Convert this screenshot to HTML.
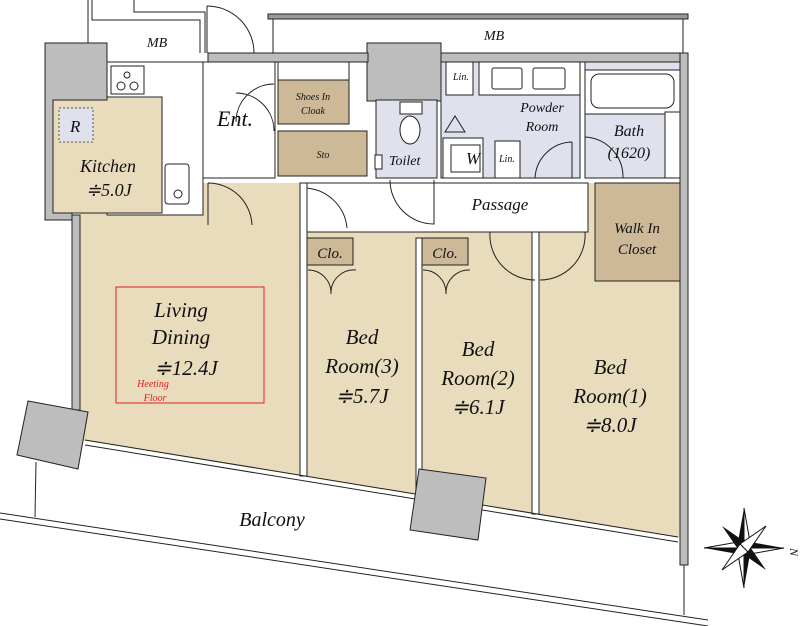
<!DOCTYPE html>
<html><head><meta charset="utf-8"><style>
body{margin:0;background:#fff}
svg{display:block}
text{font-family:"Liberation Serif",serif;font-style:italic;fill:#111}
</style></head><body>
<svg width="811" height="626" viewBox="0 0 811 626" xmlns="http://www.w3.org/2000/svg">
<g fill="none" stroke="#222" stroke-width="1">
<polyline points="88,0 88,43"/><polyline points="92,0 92,20 200,20 200,53"/>
<polyline points="134,0 134,12 205,12 205,53"/>
<rect x="268" y="14" width="420" height="5" fill="#999"/>
<polyline points="273,53 273,19 683,19 683,53"/>
</g>
<polygon points="80,183 680,183 680,538 80,440" fill="#e8dcbc"/>
<rect x="107" y="62" width="96" height="153" fill="#fff" stroke="#222"/>
<rect x="53" y="97" width="109" height="116" fill="#e8dcbc" stroke="#222"/>
<rect x="59" y="108" width="34" height="34" fill="#dfe1ec" stroke="#555" stroke-dasharray="2,2"/>
<rect x="111" y="66" width="33" height="28" fill="#fff" stroke="#222"/>
<circle cx="121" cy="86" r="4" fill="none" stroke="#222"/><circle cx="134" cy="86" r="4" fill="none" stroke="#222"/><circle cx="127" cy="75" r="3" fill="none" stroke="#222"/>
<rect x="165" y="164" width="24" height="40" rx="3" fill="#fff" stroke="#222"/>
<circle cx="178" cy="194" r="4" fill="none" stroke="#222"/>
<polygon points="45,43 107,43 107,100 53,100 53,213 72,213 72,220 45,220" fill="#bdbdbd" stroke="#222"/>
<rect x="72" y="215" width="8" height="195" fill="#bdbdbd" stroke="#222"/>
<rect x="367" y="43" width="74" height="58" fill="#bdbdbd" stroke="#222"/>
<rect x="208" y="53" width="160" height="9" fill="#bdbdbd" stroke="#222"/>
<rect x="441" y="53" width="242" height="9" fill="#bdbdbd" stroke="#222"/>
<rect x="680" y="53" width="8" height="512" fill="#bdbdbd" stroke="#222"/>
<rect x="203" y="62" width="72" height="116" fill="#fff" stroke="#222"/>
<path d="M207,6 L207,53 M207,6 A47,47 0 0 1 254,53" fill="none" stroke="#222"/>
<path d="M274,84 A38,38 0 0 0 236,122 M274,131 A38,38 0 0 0 236,93" fill="none" stroke="#222"/>
<rect x="278" y="62" width="71" height="18" fill="#fff" stroke="#222"/>
<rect x="278" y="80" width="71" height="44" fill="#cdb997" stroke="#222"/>
<rect x="278" y="131" width="89" height="45" fill="#cdb997" stroke="#222"/>
<rect x="376" y="100" width="61" height="78" fill="#dfe1ec" stroke="#222"/>
<ellipse cx="410" cy="130" rx="10" ry="14" fill="#fff" stroke="#222"/>
<rect x="400" y="102" width="22" height="12" fill="#fff" stroke="#222"/>
<rect x="375" y="155" width="7" height="14" fill="#fff" stroke="#222"/>
<rect x="441" y="62" width="139" height="116" fill="#dfe1ec" stroke="#222"/>
<rect x="479" y="62" width="101" height="33" fill="#fff" stroke="#222"/>
<rect x="446" y="62" width="27" height="33" fill="#fff" stroke="#222"/>
<rect x="492" y="68" width="30" height="21" rx="2" fill="#fff" stroke="#222"/>
<rect x="533" y="68" width="32" height="21" rx="2" fill="#fff" stroke="#222"/>
<rect x="443" y="138" width="40" height="40" fill="#fff" stroke="#222"/><rect x="451" y="145" width="29" height="27" fill="#fff" stroke="#222"/>
<rect x="495" y="141" width="25" height="37" fill="#fff" stroke="#222"/>
<path d="M445,132 L455,116 L465,132 Z" fill="none" stroke="#222"/>
<path d="M572,142 A38,38 0 0 0 535,178 M572,142 L572,178" fill="none" stroke="#222"/>
<rect x="585" y="62" width="95" height="116" fill="#dfe1ec" stroke="#222"/>
<rect x="585" y="70" width="95" height="44" fill="#fff" stroke="#222"/>
<rect x="591" y="74" width="83" height="34" rx="8" fill="#fff" stroke="#222"/>
<rect x="665" y="112" width="15" height="66" fill="#fff" stroke="#222"/>
<path d="M585,137 A40,40 0 0 1 623,178" fill="none" stroke="#222"/>
<rect x="303" y="183" width="285" height="49" fill="#fff" stroke="#222"/>
<path d="M390,180 A44,44 0 0 0 434,224 L434,180" fill="none" stroke="#222"/>
<path d="M303,188 A44,44 0 0 1 347,228" fill="none" stroke="#222"/>
<path d="M208,183 A44,44 0 0 1 252,225 M208,183 L208,225" fill="none" stroke="#222"/>
<rect x="595" y="183" width="85" height="98" fill="#cdb997" stroke="#222"/>
<rect x="300" y="183" width="7" height="293" fill="#fff" stroke="#222"/>
<rect x="416" y="238" width="6" height="258" fill="#fff" stroke="#222"/>
<rect x="532" y="232" width="7" height="282" fill="#fff" stroke="#222"/>
<rect x="307" y="238" width="46" height="27" fill="#cdb997" stroke="#222"/>
<rect x="422" y="238" width="46" height="27" fill="#cdb997" stroke="#222"/>
<path d="M308,270 A23,23 0 0 1 331,294 M356,270 A23,23 0 0 0 331,294 M423,270 A23,23 0 0 1 446,294 M470,270 A23,23 0 0 0 446,294" fill="none" stroke="#222"/>
<path d="M490,232 A45,45 0 0 0 535,280 M585,232 A45,45 0 0 1 540,280" fill="none" stroke="#222"/>
<g stroke="#222" fill="none">
<line x1="85" y1="440" x2="678" y2="537"/><line x1="85" y1="445" x2="678" y2="542"/>
<line x1="0" y1="513" x2="708" y2="620"/><line x1="0" y1="519" x2="708" y2="626"/>
<line x1="36" y1="462" x2="35" y2="517"/><line x1="684" y1="565" x2="684" y2="615"/>
</g>
<polygon points="28,401 88,412 78,469 17,455" fill="#bdbdbd" stroke="#222"/>
<polygon points="419,469 486,478 478,540 410,530" fill="#bdbdbd" stroke="#222"/>
<rect x="116" y="287" width="148" height="116" fill="none" stroke="#e02020"/>
<g transform="translate(744,548)">
<polygon points="0,-40 6,-6 40,0 6,6 0,40 -6,6 -40,0 -6,-6" fill="#111"/>
<polygon points="0,-40 6,-6 0,0" fill="#fff" stroke="#111"/><polygon points="40,0 6,6 0,0" fill="#fff" stroke="#111"/>
<polygon points="0,40 -6,6 0,0" fill="#fff" stroke="#111"/><polygon points="-40,0 -6,-6 0,0" fill="#fff" stroke="#111"/>
<polygon points="-22,-22 4,-4 -4,4" fill="#111"/><polygon points="22,22 4,-4 -4,4" fill="#111"/>
<polygon points="22,-22 -4,-4 4,4" fill="#fff" stroke="#111"/><polygon points="-22,22 -4,-4 4,4" fill="#fff" stroke="#111"/>
<text x="50" y="4" font-size="12" font-style="italic" transform="rotate(90 50 0)">N</text>
</g>
<g font-style="italic" font-family="Liberation Serif, serif">
<text x="147" y="47" font-size="14">MB</text>
<text x="484" y="40" font-size="14">MB</text>
<text x="70" y="132" font-size="17">R</text>
<text x="80" y="172" font-size="18">Kitchen</text>
<text x="86" y="196" font-size="18">≑5.0J</text>
<text x="217" y="126" font-size="22">Ent.</text>
<text x="313" y="100" font-size="10" text-anchor="middle">Shoes In</text>
<text x="313" y="114" font-size="10" text-anchor="middle">Cloak</text>
<text x="323" y="158" font-size="10" text-anchor="middle">Sto</text>
<text x="389" y="165" font-size="14">Toilet</text>
<text x="453" y="80" font-size="10">Lin.</text>
<text x="499" y="162" font-size="10">Lin.</text>
<text x="466" y="164" font-size="17">W</text>
<text x="542" y="112" font-size="14" text-anchor="middle">Powder</text>
<text x="542" y="131" font-size="14" text-anchor="middle">Room</text>
<text x="629" y="136" font-size="16" text-anchor="middle">Bath</text>
<text x="629" y="158" font-size="16" text-anchor="middle">(1620)</text>
<text x="500" y="210" font-size="17" text-anchor="middle">Passage</text>
<text x="637" y="233" font-size="15" text-anchor="middle">Walk In</text>
<text x="637" y="254" font-size="15" text-anchor="middle">Closet</text>
<text x="330" y="258" font-size="15" text-anchor="middle">Clo.</text>
<text x="445" y="258" font-size="15" text-anchor="middle">Clo.</text>
<text x="181" y="317" font-size="21" text-anchor="middle">Living</text>
<text x="181" y="344" font-size="21" text-anchor="middle">Dining</text>
<text x="186" y="375" font-size="21" text-anchor="middle">≑12.4J</text>
<text x="153" y="387" font-size="10" style="fill:#e02020" text-anchor="middle">Heeting</text>
<text x="155" y="401" font-size="10" style="fill:#e02020" text-anchor="middle">Floor</text>
<text x="362" y="344" font-size="21" text-anchor="middle">Bed</text>
<text x="362" y="373" font-size="21" text-anchor="middle">Room(3)</text>
<text x="362" y="403" font-size="21" text-anchor="middle">≑5.7J</text>
<text x="478" y="356" font-size="21" text-anchor="middle">Bed</text>
<text x="478" y="385" font-size="21" text-anchor="middle">Room(2)</text>
<text x="478" y="414" font-size="21" text-anchor="middle">≑6.1J</text>
<text x="610" y="374" font-size="21" text-anchor="middle">Bed</text>
<text x="610" y="403" font-size="21" text-anchor="middle">Room(1)</text>
<text x="610" y="432" font-size="21" text-anchor="middle">≑8.0J</text>
<text x="272" y="526" font-size="20" text-anchor="middle">Balcony</text>
</g>
</svg>
</body></html>
